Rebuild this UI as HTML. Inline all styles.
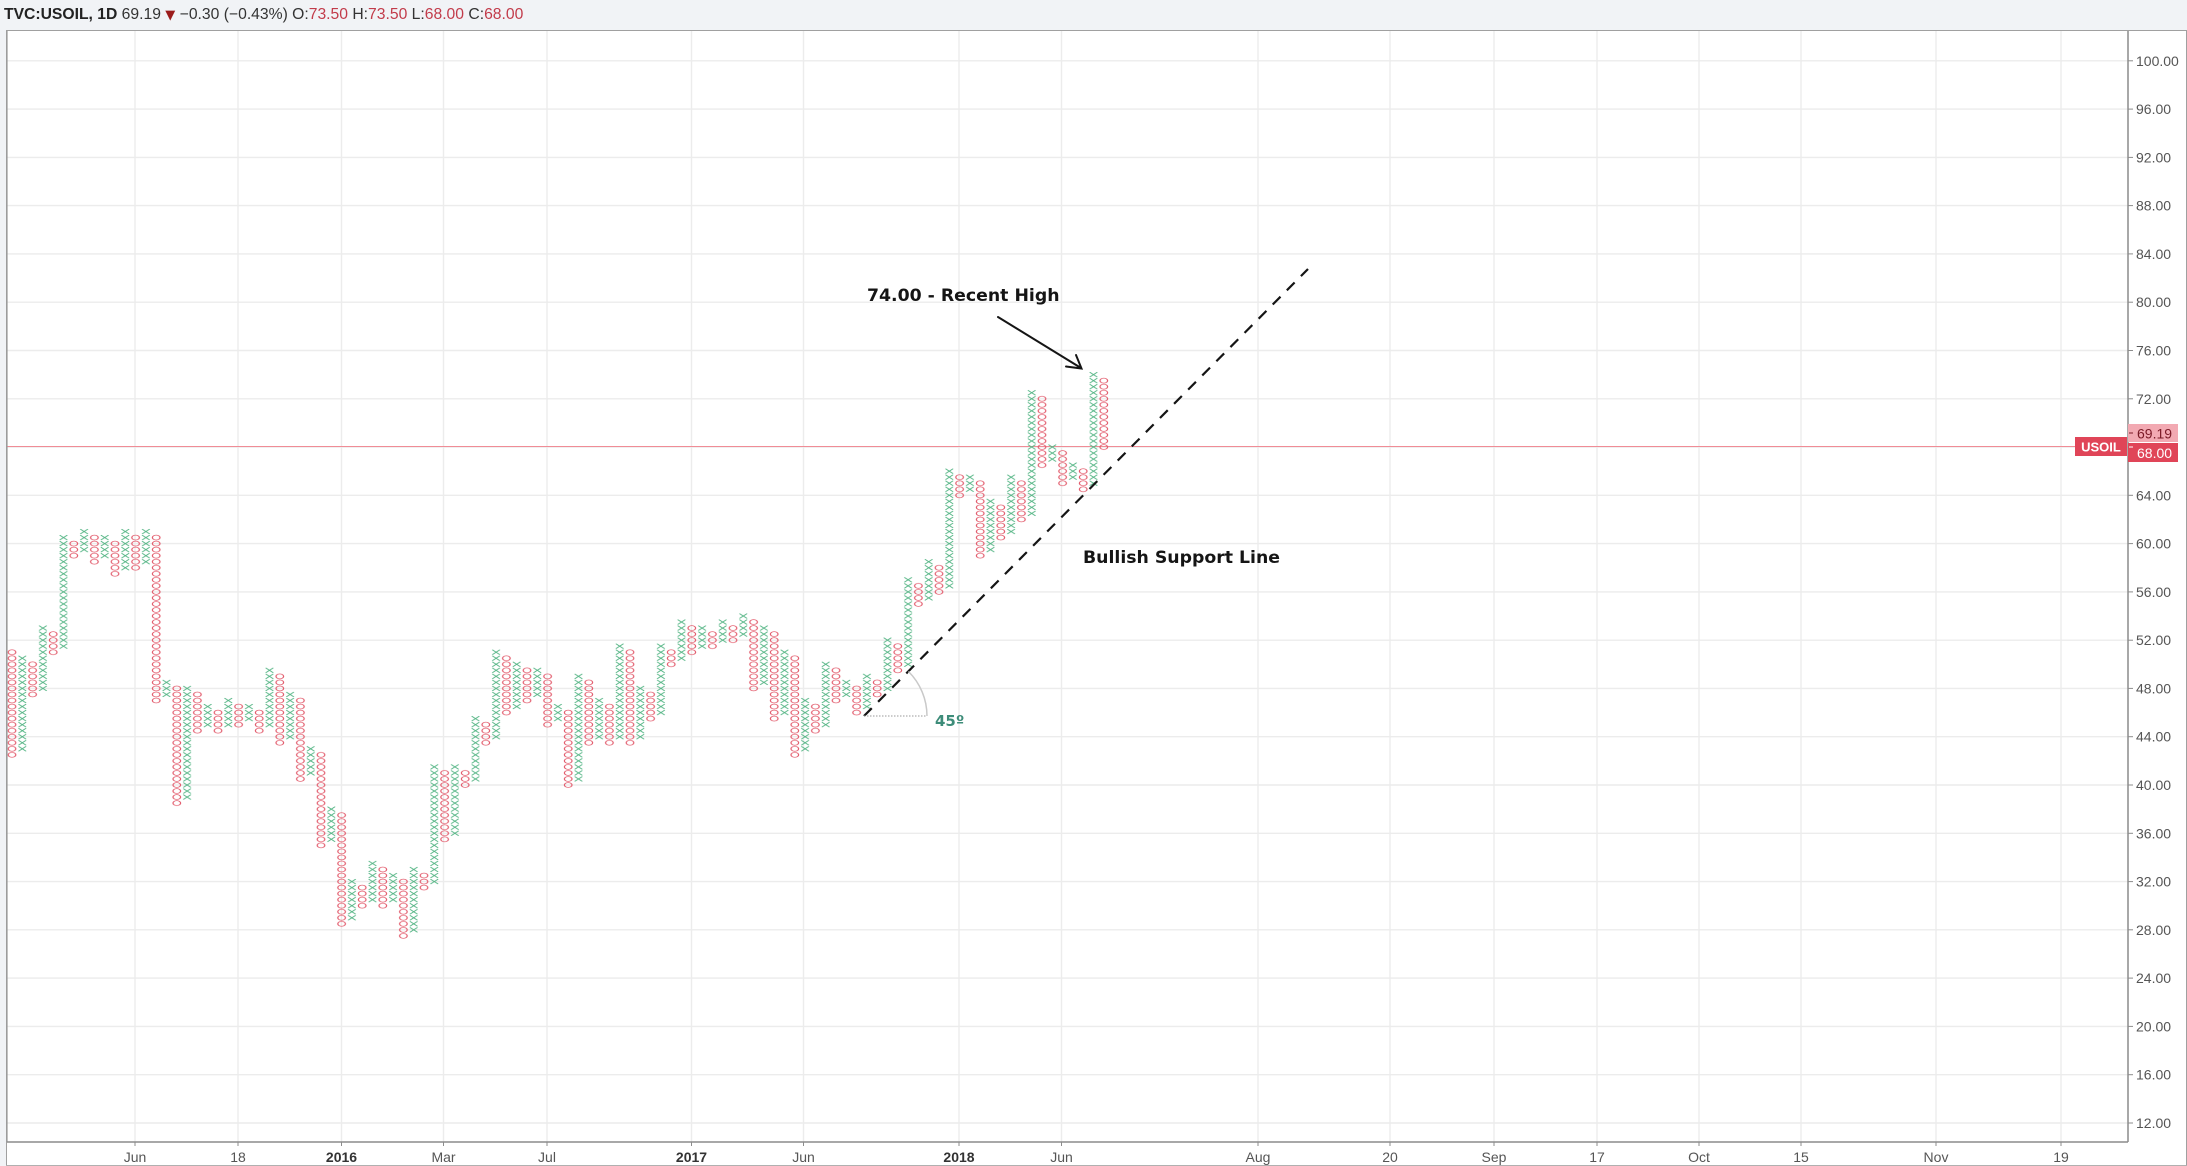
<!DOCTYPE html>
<html><head><meta charset="utf-8">
<style>
html,body{margin:0;padding:0;background:#f1f3f6;}
svg{display:block;}
</style></head>
<body>
<svg width="2187" height="1166" viewBox="0 0 2187 1166" xmlns="http://www.w3.org/2000/svg" font-family="'Liberation Sans', Arial, sans-serif">
<defs>
<pattern id="px" patternUnits="userSpaceOnUse" width="1" height="1">
 <path d="M0.13 0.1L0.87 0.9M0.87 0.1L0.13 0.9" stroke="#52b483" stroke-width="0.13" fill="none"/>
</pattern>
<pattern id="po" patternUnits="userSpaceOnUse" width="1" height="1">
 <ellipse cx="0.5" cy="0.5" rx="0.37" ry="0.41" stroke="#e25a6b" stroke-width="0.12" fill="none"/>
</pattern>
<clipPath id="clip"><rect x="7" y="31" width="2121" height="1111"/></clipPath>
</defs>

<!-- background -->
<rect width="2187" height="1166" fill="#f1f3f6"/>
<rect x="6.5" y="30.5" width="2180" height="1135" fill="#ffffff" stroke="#a0a0a0"/>

<!-- header -->
<text x="4" y="19" font-size="15.7" fill="#333"><tspan font-weight="bold" fill="#222">TVC:USOIL, 1D</tspan> 69.19 <tspan fill="#9b1b1b" font-size="13" font-family="'DejaVu Sans', sans-serif">▼</tspan> −0.30 (−0.43%) O:<tspan fill="#c23b4a">73.50</tspan> H:<tspan fill="#c23b4a">73.50</tspan> L:<tspan fill="#c23b4a">68.00</tspan> C:<tspan fill="#c23b4a">68.00</tspan></text>

<!-- grid -->
<g stroke="#ececec" stroke-width="1.4">
<line x1="7" x2="2128" y1="60.8" y2="60.8"/>
<line x1="7" x2="2128" y1="109.1" y2="109.1"/>
<line x1="7" x2="2128" y1="157.4" y2="157.4"/>
<line x1="7" x2="2128" y1="205.6" y2="205.6"/>
<line x1="7" x2="2128" y1="253.9" y2="253.9"/>
<line x1="7" x2="2128" y1="302.2" y2="302.2"/>
<line x1="7" x2="2128" y1="350.5" y2="350.5"/>
<line x1="7" x2="2128" y1="398.8" y2="398.8"/>
<line x1="7" x2="2128" y1="447" y2="447"/>
<line x1="7" x2="2128" y1="495.3" y2="495.3"/>
<line x1="7" x2="2128" y1="543.6" y2="543.6"/>
<line x1="7" x2="2128" y1="591.9" y2="591.9"/>
<line x1="7" x2="2128" y1="640.2" y2="640.2"/>
<line x1="7" x2="2128" y1="688.4" y2="688.4"/>
<line x1="7" x2="2128" y1="736.7" y2="736.7"/>
<line x1="7" x2="2128" y1="785" y2="785"/>
<line x1="7" x2="2128" y1="833.3" y2="833.3"/>
<line x1="7" x2="2128" y1="881.6" y2="881.6"/>
<line x1="7" x2="2128" y1="929.8" y2="929.8"/>
<line x1="7" x2="2128" y1="978.1" y2="978.1"/>
<line x1="7" x2="2128" y1="1026.4" y2="1026.4"/>
<line x1="7" x2="2128" y1="1074.7" y2="1074.7"/>
<line x1="7" x2="2128" y1="1123" y2="1123"/>
<line y1="31" y2="1142" x1="135" x2="135"/>
<line y1="31" y2="1142" x1="238" x2="238"/>
<line y1="31" y2="1142" x1="341.5" x2="341.5"/>
<line y1="31" y2="1142" x1="443.5" x2="443.5"/>
<line y1="31" y2="1142" x1="547" x2="547"/>
<line y1="31" y2="1142" x1="691.5" x2="691.5"/>
<line y1="31" y2="1142" x1="803.5" x2="803.5"/>
<line y1="31" y2="1142" x1="959" x2="959"/>
<line y1="31" y2="1142" x1="1061.5" x2="1061.5"/>
<line y1="31" y2="1142" x1="1258" x2="1258"/>
<line y1="31" y2="1142" x1="1390" x2="1390"/>
<line y1="31" y2="1142" x1="1494" x2="1494"/>
<line y1="31" y2="1142" x1="1597" x2="1597"/>
<line y1="31" y2="1142" x1="1699" x2="1699"/>
<line y1="31" y2="1142" x1="1801" x2="1801"/>
<line y1="31" y2="1142" x1="1936" x2="1936"/>
<line y1="31" y2="1142" x1="2061" x2="2061"/>
</g>

<!-- current price line -->
<line x1="7" x2="2075" y1="446.5" y2="446.5" stroke="#f08c96" stroke-width="1"/>

<!-- P&F columns -->
<g clip-path="url(#clip)">
<g transform="translate(6.85,57.7825) scale(10.3,6.035)">
<g fill="url(#po)">
<rect x="0" y="98" width="1" height="18"/>
<rect x="2" y="100" width="1" height="6"/>
<rect x="4" y="95" width="1" height="4"/>
<rect x="6" y="80" width="1" height="3"/>
<rect x="8" y="79" width="1" height="5"/>
<rect x="10" y="80" width="1" height="6"/>
<rect x="12" y="79" width="1" height="6"/>
<rect x="14" y="79" width="1" height="28"/>
<rect x="16" y="104" width="1" height="20"/>
<rect x="18" y="105" width="1" height="7"/>
<rect x="20" y="108" width="1" height="4"/>
<rect x="22" y="107" width="1" height="4"/>
<rect x="24" y="108" width="1" height="4"/>
<rect x="26" y="102" width="1" height="12"/>
<rect x="28" y="106" width="1" height="14"/>
<rect x="30" y="115" width="1" height="16"/>
<rect x="32" y="125" width="1" height="19"/>
<rect x="34" y="137" width="1" height="4"/>
<rect x="36" y="134" width="1" height="7"/>
<rect x="38" y="136" width="1" height="10"/>
<rect x="40" y="135" width="1" height="3"/>
<rect x="42" y="118" width="1" height="12"/>
<rect x="44" y="118" width="1" height="3"/>
<rect x="46" y="110" width="1" height="4"/>
<rect x="48" y="99" width="1" height="10"/>
<rect x="50" y="101" width="1" height="6"/>
<rect x="52" y="102" width="1" height="9"/>
<rect x="54" y="108" width="1" height="13"/>
<rect x="56" y="103" width="1" height="11"/>
<rect x="58" y="107" width="1" height="7"/>
<rect x="60" y="98" width="1" height="16"/>
<rect x="62" y="105" width="1" height="5"/>
<rect x="64" y="98" width="1" height="3"/>
<rect x="66" y="94" width="1" height="5"/>
<rect x="68" y="95" width="1" height="3"/>
<rect x="70" y="94" width="1" height="3"/>
<rect x="72" y="93" width="1" height="12"/>
<rect x="74" y="95" width="1" height="15"/>
<rect x="76" y="99" width="1" height="17"/>
<rect x="78" y="107" width="1" height="5"/>
<rect x="80" y="101" width="1" height="6"/>
<rect x="82" y="104" width="1" height="5"/>
<rect x="84" y="103" width="1" height="3"/>
<rect x="86" y="97" width="1" height="5"/>
<rect x="88" y="87" width="1" height="4"/>
<rect x="90" y="84" width="1" height="5"/>
<rect x="92" y="69" width="1" height="4"/>
<rect x="94" y="70" width="1" height="13"/>
<rect x="96" y="74" width="1" height="6"/>
<rect x="98" y="70" width="1" height="7"/>
<rect x="100" y="56" width="1" height="12"/>
<rect x="102" y="65" width="1" height="6"/>
<rect x="104" y="68" width="1" height="4"/>
<rect x="106" y="53" width="1" height="12"/>
</g>
<g fill="url(#px)">
<rect x="1" y="99" width="1" height="16"/>
<rect x="3" y="94" width="1" height="11"/>
<rect x="5" y="79" width="1" height="19"/>
<rect x="7" y="78" width="1" height="4"/>
<rect x="9" y="79" width="1" height="4"/>
<rect x="11" y="78" width="1" height="7"/>
<rect x="13" y="78" width="1" height="6"/>
<rect x="15" y="103" width="1" height="3"/>
<rect x="17" y="104" width="1" height="19"/>
<rect x="19" y="107" width="1" height="4"/>
<rect x="21" y="106" width="1" height="5"/>
<rect x="23" y="107" width="1" height="3"/>
<rect x="25" y="101" width="1" height="10"/>
<rect x="27" y="105" width="1" height="8"/>
<rect x="29" y="114" width="1" height="5"/>
<rect x="31" y="124" width="1" height="6"/>
<rect x="33" y="136" width="1" height="7"/>
<rect x="35" y="133" width="1" height="7"/>
<rect x="37" y="135" width="1" height="5"/>
<rect x="39" y="134" width="1" height="11"/>
<rect x="41" y="117" width="1" height="20"/>
<rect x="43" y="117" width="1" height="12"/>
<rect x="45" y="109" width="1" height="11"/>
<rect x="47" y="98" width="1" height="15"/>
<rect x="49" y="100" width="1" height="8"/>
<rect x="51" y="101" width="1" height="5"/>
<rect x="53" y="107" width="1" height="3"/>
<rect x="55" y="102" width="1" height="18"/>
<rect x="57" y="106" width="1" height="7"/>
<rect x="59" y="97" width="1" height="16"/>
<rect x="61" y="104" width="1" height="9"/>
<rect x="63" y="97" width="1" height="12"/>
<rect x="65" y="93" width="1" height="7"/>
<rect x="67" y="94" width="1" height="4"/>
<rect x="69" y="93" width="1" height="4"/>
<rect x="71" y="92" width="1" height="4"/>
<rect x="73" y="94" width="1" height="10"/>
<rect x="75" y="98" width="1" height="11"/>
<rect x="77" y="106" width="1" height="9"/>
<rect x="79" y="100" width="1" height="11"/>
<rect x="81" y="103" width="1" height="3"/>
<rect x="83" y="102" width="1" height="6"/>
<rect x="85" y="96" width="1" height="9"/>
<rect x="87" y="86" width="1" height="15"/>
<rect x="89" y="83" width="1" height="7"/>
<rect x="91" y="68" width="1" height="20"/>
<rect x="93" y="69" width="1" height="3"/>
<rect x="95" y="73" width="1" height="9"/>
<rect x="97" y="69" width="1" height="10"/>
<rect x="99" y="55" width="1" height="21"/>
<rect x="101" y="64" width="1" height="3"/>
<rect x="103" y="67" width="1" height="3"/>
<rect x="105" y="52" width="1" height="19"/>
</g>
</g>
</g>

<!-- plot border -->
<line x1="7" y1="31" x2="7" y2="1142" stroke="#9a9a9a" stroke-width="1.2"/>
<line x1="2128" y1="31" x2="2128" y2="1142" stroke="#8c8c8c" stroke-width="1.5"/>
<line x1="7" y1="1142" x2="2128" y2="1142" stroke="#8c8c8c" stroke-width="1.5"/>

<!-- annotations -->
<text x="867" y="301" font-family="'DejaVu Sans', 'Liberation Sans', sans-serif" font-weight="bold" font-size="17.3" fill="#151515">74.00 - Recent High</text>
<g stroke="#151515" stroke-width="2" fill="none" stroke-linecap="round">
<line x1="998" y1="317" x2="1081" y2="368"/>
<path d="M1066 366.5L1081.5 368.5L1076 355"/>
</g>
<line x1="864" y1="716" x2="1308" y2="269" stroke="#151515" stroke-width="2.2" stroke-dasharray="11 9"/>
<text x="1083" y="563" font-family="'DejaVu Sans', 'Liberation Sans', sans-serif" font-weight="bold" font-size="17.3" fill="#151515">Bullish Support Line</text>
<line x1="864" y1="716" x2="927" y2="716" stroke="#9a9a9a" stroke-width="1" stroke-dasharray="1.5 1.5"/>
<path d="M927 716A63 63 0 0 0 908.5 671.5" stroke="#c9c9c9" stroke-width="1.5" fill="none"/>
<text x="935" y="726" font-family="'DejaVu Sans', 'Liberation Sans', sans-serif" font-weight="bold" font-size="15" fill="#3d8c79">45º</text>

<!-- price axis ticks and labels -->
<g stroke="#8c8c8c" stroke-width="1">
<line x1="2128" x2="2133" y1="60.8" y2="60.8"/>
<line x1="2128" x2="2133" y1="109.1" y2="109.1"/>
<line x1="2128" x2="2133" y1="157.4" y2="157.4"/>
<line x1="2128" x2="2133" y1="205.6" y2="205.6"/>
<line x1="2128" x2="2133" y1="253.9" y2="253.9"/>
<line x1="2128" x2="2133" y1="302.2" y2="302.2"/>
<line x1="2128" x2="2133" y1="350.5" y2="350.5"/>
<line x1="2128" x2="2133" y1="398.8" y2="398.8"/>
<line x1="2128" x2="2133" y1="495.3" y2="495.3"/>
<line x1="2128" x2="2133" y1="543.6" y2="543.6"/>
<line x1="2128" x2="2133" y1="591.9" y2="591.9"/>
<line x1="2128" x2="2133" y1="640.2" y2="640.2"/>
<line x1="2128" x2="2133" y1="688.4" y2="688.4"/>
<line x1="2128" x2="2133" y1="736.7" y2="736.7"/>
<line x1="2128" x2="2133" y1="785" y2="785"/>
<line x1="2128" x2="2133" y1="833.3" y2="833.3"/>
<line x1="2128" x2="2133" y1="881.6" y2="881.6"/>
<line x1="2128" x2="2133" y1="929.8" y2="929.8"/>
<line x1="2128" x2="2133" y1="978.1" y2="978.1"/>
<line x1="2128" x2="2133" y1="1026.4" y2="1026.4"/>
<line x1="2128" x2="2133" y1="1074.7" y2="1074.7"/>
<line x1="2128" x2="2133" y1="1123" y2="1123"/>
</g>
<g font-size="14" fill="#555">
<text x="2136" y="65.8">100.00</text>
<text x="2136" y="114.1">96.00</text>
<text x="2136" y="162.4">92.00</text>
<text x="2136" y="210.6">88.00</text>
<text x="2136" y="258.9">84.00</text>
<text x="2136" y="307.2">80.00</text>
<text x="2136" y="355.5">76.00</text>
<text x="2136" y="403.8">72.00</text>
<text x="2136" y="500.3">64.00</text>
<text x="2136" y="548.6">60.00</text>
<text x="2136" y="596.9">56.00</text>
<text x="2136" y="645.2">52.00</text>
<text x="2136" y="693.4">48.00</text>
<text x="2136" y="741.7">44.00</text>
<text x="2136" y="790">40.00</text>
<text x="2136" y="838.3">36.00</text>
<text x="2136" y="886.6">32.00</text>
<text x="2136" y="934.8">28.00</text>
<text x="2136" y="983.1">24.00</text>
<text x="2136" y="1031.4">20.00</text>
<text x="2136" y="1079.7">16.00</text>
<text x="2136" y="1128">12.00</text>
</g>

<!-- price labels -->
<rect x="2075" y="437" width="52" height="19" fill="#e04558"/>
<text x="2101" y="451.5" font-size="13" font-weight="bold" fill="#ffffff" text-anchor="middle">USOIL</text>
<rect x="2128" y="424" width="50" height="18" fill="#f2a9b2"/>
<line x1="2129" x2="2133" y1="433" y2="433" stroke="#7a1a26" stroke-width="1"/>
<text x="2137" y="438.5" font-size="14" fill="#7a1a26">69.19</text>
<rect x="2128" y="443" width="50" height="19" fill="#e04558"/>
<line x1="2129" x2="2133" y1="447" y2="447" stroke="#ffffff" stroke-width="1"/>
<text x="2137" y="458" font-size="14" fill="#ffffff">68.00</text>

<!-- time axis -->
<g stroke="#8c8c8c" stroke-width="1">
<line y1="1142" y2="1146" x1="135" x2="135"/>
<line y1="1142" y2="1146" x1="238" x2="238"/>
<line y1="1142" y2="1146" x1="341.5" x2="341.5"/>
<line y1="1142" y2="1146" x1="443.5" x2="443.5"/>
<line y1="1142" y2="1146" x1="547" x2="547"/>
<line y1="1142" y2="1146" x1="691.5" x2="691.5"/>
<line y1="1142" y2="1146" x1="803.5" x2="803.5"/>
<line y1="1142" y2="1146" x1="959" x2="959"/>
<line y1="1142" y2="1146" x1="1061.5" x2="1061.5"/>
<line y1="1142" y2="1146" x1="1258" x2="1258"/>
<line y1="1142" y2="1146" x1="1390" x2="1390"/>
<line y1="1142" y2="1146" x1="1494" x2="1494"/>
<line y1="1142" y2="1146" x1="1597" x2="1597"/>
<line y1="1142" y2="1146" x1="1699" x2="1699"/>
<line y1="1142" y2="1146" x1="1801" x2="1801"/>
<line y1="1142" y2="1146" x1="1936" x2="1936"/>
<line y1="1142" y2="1146" x1="2061" x2="2061"/>
</g>
<g font-size="14" fill="#555" text-anchor="middle">
<text x="135" y="1162">Jun</text>
<text x="238" y="1162">18</text>
<text x="341.5" y="1162" font-weight="bold" fill="#333">2016</text>
<text x="443.5" y="1162">Mar</text>
<text x="547" y="1162">Jul</text>
<text x="691.5" y="1162" font-weight="bold" fill="#333">2017</text>
<text x="803.5" y="1162">Jun</text>
<text x="959" y="1162" font-weight="bold" fill="#333">2018</text>
<text x="1061.5" y="1162">Jun</text>
<text x="1258" y="1162">Aug</text>
<text x="1390" y="1162">20</text>
<text x="1494" y="1162">Sep</text>
<text x="1597" y="1162">17</text>
<text x="1699" y="1162">Oct</text>
<text x="1801" y="1162">15</text>
<text x="1936" y="1162">Nov</text>
<text x="2061" y="1162">19</text>
</g>
<line x1="6" y1="1165.5" x2="2187" y2="1165.5" stroke="#b0b0b0" stroke-width="1"/>
</svg>
</body></html>
